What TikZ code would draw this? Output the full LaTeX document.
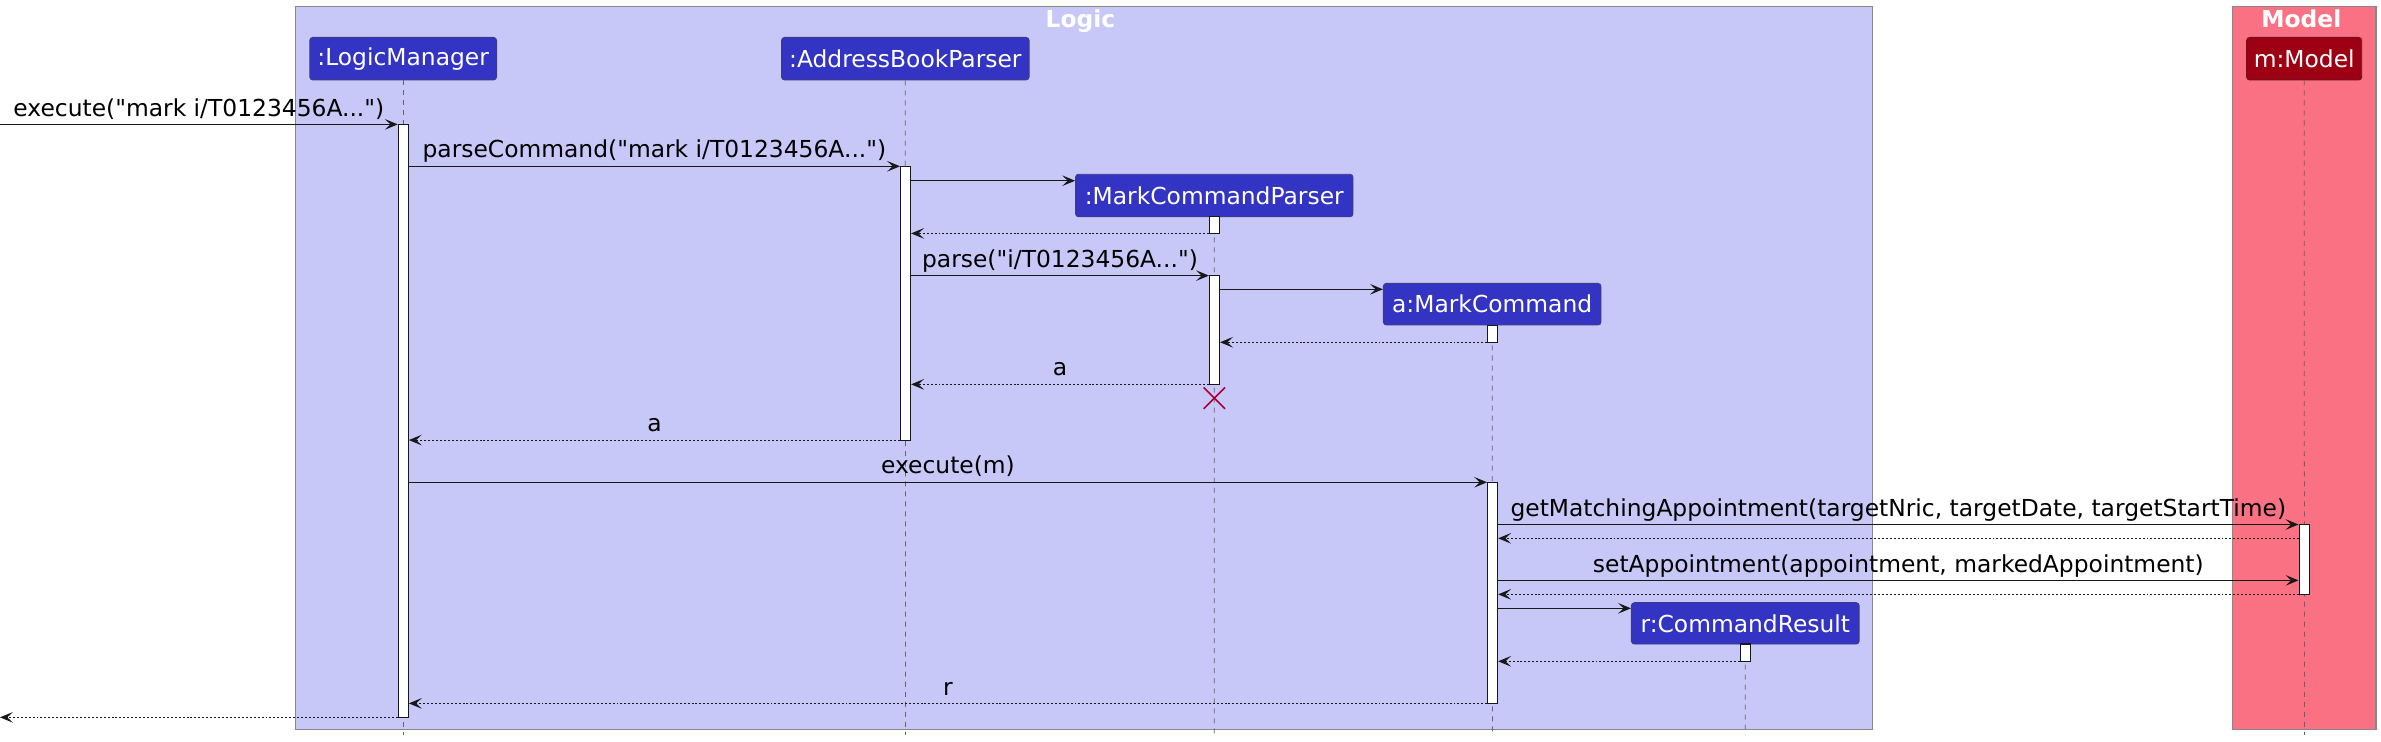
\documentclass[tikz,border=0pt]{standalone}
\usepackage{fontspec}
\setmainfont{DejaVu Sans}[Ligatures=TeXOff]
\usetikzlibrary{arrows.meta,shapes.misc}
\definecolor{logicbg}{RGB}{200,200,248}
\definecolor{modelbg}{RGB}{249,113,130}
\definecolor{partfill}{RGB}{51,51,196}
\definecolor{partborder}{RGB}{60,60,130}
\definecolor{modelfill}{RGB}{157,0,18}
\definecolor{modelborder}{RGB}{110,20,30}
\definecolor{groupborder}{RGB}{136,136,136}
\definecolor{lineblack}{RGB}{24,24,24}
\definecolor{lifegray}{RGB}{100,100,100}
\definecolor{destroy}{RGB}{168,0,54}
\begin{document}
\begin{tikzpicture}[x=1pt,y=-1pt,
  every node/.style={font=\fontsize{15.4}{18}\selectfont},
  grp/.style={draw=groupborder, line width=0.7pt},
  grptitle/.style={anchor=base, text=white, font=\fontsize{15.4}{18}\selectfont\bfseries},
  part/.style={draw=partborder, fill=partfill, rounded corners=2pt, text=white, minimum height=28pt, inner sep=0pt, line width=0.6pt},
  life/.style={draw=lifegray, line width=0.5pt, dash pattern=on 3.3pt off 3.3pt},
  act/.style={draw=lineblack, fill=white, minimum width=6.6pt, inner sep=0pt, line width=0.7pt},
  msg/.style={draw=lineblack, line width=0.7pt, -{Stealth[length=8.5pt,width=7pt,inset=3.7pt]}},
  ret/.style={msg, dash pattern=on 1.3pt off 1.3pt},
  lbl/.style={anchor=base, yshift=5.5pt, inner sep=0pt, text=black}]
\useasboundingbox (0,0) rectangle (1568,488);

% group boxes
\path[grp, fill=logicbg] (194.5,4) rectangle (1233,480.3);
\path[grp, fill=modelbg] (1470,4) rectangle (1564.7,480.3);
\node[grptitle] (logicT) at (711.5,18) {Logic};
\node[grptitle] (modelT) at (1515.5,18) {Model};

% participants
\node[part, minimum width=123pt] (lm) at (265.5,38.65) {:LogicManager};
\node[part, minimum width=163pt] (abp) at (596.2,38.65) {:AddressBookParser};
\node[part, minimum width=182.7pt] (mcp) at (799.65,128.75) {:MarkCommandParser};
\node[part, minimum width=143.3pt, minimum height=27.4pt] (mc) at (982.65,200.3) {a:MarkCommand};
\node[part, minimum width=150pt, minimum height=27.2pt] (cr) at (1149.35,410.5) {r:CommandResult};
\node[part, minimum width=75.8pt, fill=modelfill, draw=modelborder] (m) at (1517.4,38.65) {m:Model};

% lifeline ends
\coordinate (lmEnd) at (265.5,484);
\coordinate (abpEnd) at (596.3,484);
\coordinate (mcpEnd) at (799.7,484);
\coordinate (mcEnd) at (982.8,484);
\coordinate (crEnd) at (1149.3,484);
\coordinate (mEnd) at (1517.6,484);
\draw[life] (lm.south) -- (lmEnd);
\draw[life] (abp.south) -- (abpEnd);
\draw[life] (mcp.south) -- (mcpEnd);
\draw[life] (mc.south) -- (mcEnd);
\draw[life] (cr.south) -- (crEnd);
\draw[life] (m.south) -- (mEnd);

% activations
\node[act, minimum height=390.5pt] (lmA) at (265.6,277.15) {};
\node[act, minimum height=180.3pt] (abpA) at (596.35,199.65) {};
\node[act, minimum height=11pt] (mcpA1) at (799.8,148.2) {};
\node[act, minimum height=71.6pt] (mcpA2) at (799.8,217.3) {};
\node[act, minimum height=11.3pt] (mcA1) at (982.95,219.75) {};
\node[act, minimum height=145.6pt] (mcA2) at (982.95,390.4) {};
\node[act, minimum height=46pt] (mA) at (1517.3,368.4) {};
\node[act, minimum height=11.4pt] (crA) at (1149.25,429.8) {};

% message heights
\coordinate (inStart) at (0,81.9);
\coordinate (outEnd) at (0,472.4);
\coordinate (y2) at (0,109.5);
\coordinate (y3) at (0,119);
\coordinate (y4) at (0,153.7);
\coordinate (y5) at (0,181.5);
\coordinate (y6) at (0,190.5);
\coordinate (y7) at (0,225.4);
\coordinate (y8) at (0,253.1);
\coordinate (y10) at (0,289.8);
\coordinate (y11) at (0,317.6);
\coordinate (y12) at (0,345.4);
\coordinate (y13) at (0,354.5);
\coordinate (y14) at (0,382.2);
\coordinate (y15) at (0,391.4);
\coordinate (y16) at (0,400.6);
\coordinate (y17) at (0,435.5);
\coordinate (y18) at (0,463.2);

% messages
\draw[msg] (inStart) -- node[lbl] {execute("mark i/T0123456A...")} (lmA.west |- inStart);
\draw[msg] (lmA.east |- y2) -- node[lbl] {parseCommand("mark i/T0123456A...")} (abpA.west |- y2);
\draw[msg] (abpA.east |- y3) -- (mcp.west |- y3);
\draw[ret] (mcpA1.west |- y4) -- (abpA.east |- y4);
\draw[msg] (abpA.east |- y5) -- node[lbl] {parse("i/T0123456A...")} (mcpA2.west |- y5);
\draw[msg] (mcpA2.east |- y6) -- (mc.west |- y6);
\draw[ret] (mcA1.west |- y7) -- (mcpA2.east |- y7);
\draw[ret] (mcpA2.west |- y8) -- node[lbl] {a} (abpA.east |- y8);
\node[cross out, draw=destroy, line width=1.1pt, minimum size=13pt, inner sep=0pt] (xd) at (799.7,262.2) {};
\draw[ret] (abpA.west |- y10) -- node[lbl] {a} (lmA.east |- y10);
\draw[msg] (lmA.east |- y11) -- node[lbl] {execute(m)} (mcA2.west |- y11);
\draw[msg] (mcA2.east |- y12) -- node[lbl] {getMatchingAppointment(targetNric, targetDate, targetStartTime)} (mA.west |- y12);
\draw[ret] (mA.west |- y13) -- (mcA2.east |- y13);
\draw[msg] (mcA2.east |- y14) -- node[lbl] {setAppointment(appointment, markedAppointment)} (mA.west |- y14);
\draw[ret] (mA.west |- y15) -- (mcA2.east |- y15);
\draw[msg] (mcA2.east |- y16) -- (cr.west |- y16);
\draw[ret] (crA.west |- y17) -- (mcA2.east |- y17);
\draw[ret] (mcA2.west |- y18) -- node[lbl] {r} (lmA.east |- y18);
\draw[ret] (lmA.west |- outEnd) -- (outEnd);
\end{tikzpicture}
\end{document}
